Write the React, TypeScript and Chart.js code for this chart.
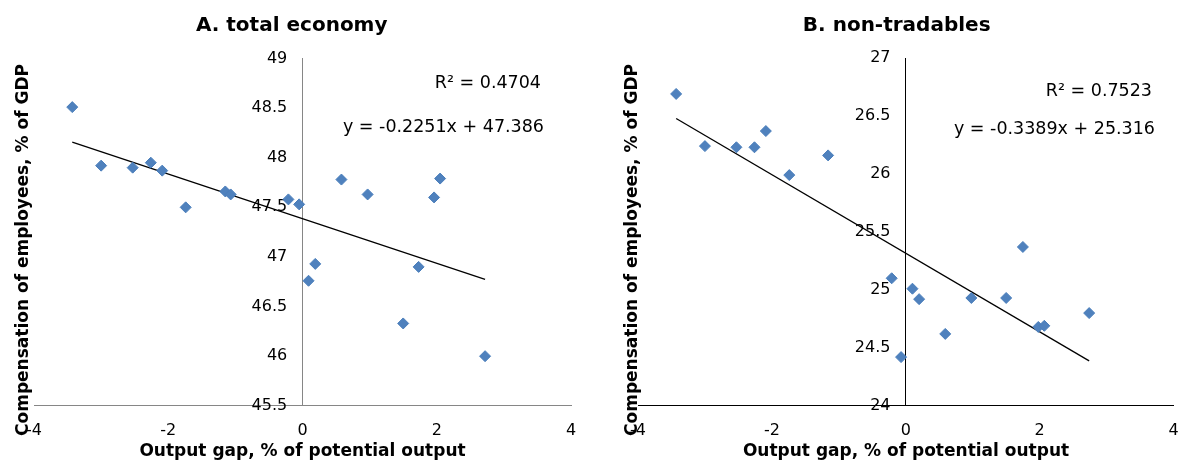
import React, { useEffect, useRef } from "react";
import { Chart, registerables } from "chart.js";

Chart.register(...registerables);

// ---- Data ----
const gapA = [-3.43, -3.0, -2.53, -2.26, -2.09, -1.74, -1.15, -1.07, -0.21, -0.05, 0.09, 0.19, 0.58, 0.97, 1.5, 1.73, 1.96, 2.05, 2.72];
const compA = [48.51, 47.92, 47.9, 47.95, 47.87, 47.5, 47.66, 47.63, 47.58, 47.53, 46.76, 46.93, 47.78, 47.63, 46.33, 46.9, 47.6, 47.79, 46.0];
const slopeA = -0.2251;
const interceptA = 47.386;
const r2A = "0.4704";

const gapB = [-3.43, -3.0, -2.53, -2.26, -2.09, -1.74, -1.16, -0.21, -0.07, 0.1, 0.2, 0.59, 0.98, 1.5, 1.75, 1.98, 2.07, 2.74];
const compB = [26.69, 26.24, 26.23, 26.23, 26.37, 25.99, 26.16, 25.1, 24.42, 25.01, 24.92, 24.62, 24.93, 24.93, 25.37, 24.68, 24.69, 24.8];
const slopeB = -0.3389;
const interceptB = 25.316;
const r2B = "0.7523";

const xTicks = [-4, -2, 0, 2, 4];
const yTicksA = [45.5, 46, 46.5, 47, 47.5, 48, 48.5, 49];
const yTicksB = [24, 24.5, 25, 25.5, 26, 26.5, 27];

const titleA = "A. total economy";
const titleB = "B. non-tradables";
const xTitle = "Output gap, % of potential output";
const yTitle = "Compensation of employees, % of GDP";

const FONT = '"DejaVu Sans", Verdana, sans-serif';
const MARKER = "#4F81BD";

const fmtEq = (s: number, b: number) =>
  `y = ${s.toFixed(4)}x ${b >= 0 ? "+" : "-"} ${Math.abs(b).toFixed(3)}`;

const textPlugin = {
  id: "panelText",
  afterDraw(chart: any, _args: any, o: any) {
    const { ctx } = chart;
    ctx.save();
    ctx.fillStyle = "#000";
    ctx.textBaseline = "middle";
    ctx.font = `bold 20px ${FONT}`;
    ctx.textAlign = "center";
    ctx.fillText(o.title, o.titleX, o.titleY);
    ctx.font = `bold 17px ${FONT}`;
    ctx.fillText(o.xTitle, o.xTitleX, o.xTitleY);
    ctx.save();
    ctx.translate(o.yTitleX, o.yTitleY);
    ctx.rotate(-Math.PI / 2);
    ctx.fillText(o.yTitle, 0, 0);
    ctx.restore();
    ctx.font = `17.5px ${FONT}`;
    ctx.textAlign = "right";
    ctx.fillText(o.r2, o.r2X, o.r2Y);
    ctx.fillText(o.eq, o.eqX, o.eqY);
    ctx.restore();
  },
};

type Panel = {
  xs: number[];
  ys: number[];
  slope: number;
  intercept: number;
  r2: string;
  yTicks: number[];
  title: string;
  axisColor: string;
  padding: { left: number; right: number; top: number; bottom: number };
  text: any;
};

function ScatterPanel({ p, left }: { p: Panel; left: number }) {
  const ref = useRef<HTMLCanvasElement>(null);
  useEffect(() => {
    const pts = p.xs.map((x, i) => ({ x, y: p.ys[i] }));
    const xmin = Math.min(...p.xs);
    const xmax = Math.max(...p.xs);
    const trend = [
      { x: xmin, y: p.slope * xmin + p.intercept },
      { x: xmax, y: p.slope * xmax + p.intercept },
    ];
    const chart = new Chart(ref.current!, {
      type: "scatter",
      data: {
        datasets: [
          {
            type: "line",
            data: trend,
            borderColor: "#000",
            borderWidth: 1.3,
            pointRadius: 0,
            fill: false,
            order: 2,
          } as any,
          {
            data: pts,
            pointStyle: "rectRot",
            pointRadius: 5.5,
            backgroundColor: MARKER,
            borderColor: "#4A7EBB",
            borderWidth: 1,
            order: 1,
          },
        ],
      },
      options: {
        animation: false,
        responsive: false,
        devicePixelRatio: 1,
        layout: { padding: p.padding },
        plugins: {
          legend: { display: false },
          tooltip: { enabled: false },
          title: { display: false },
          panelText: {
            ...p.text,
            title: p.title,
            xTitle,
            yTitle,
            r2: `R² = ${p.r2}`,
            eq: fmtEq(p.slope, p.intercept),
          },
        } as any,
        scales: {
          x: {
            type: "linear",
            min: xTicks[0],
            max: xTicks[xTicks.length - 1],
            afterBuildTicks: (s: any) => {
              s.ticks = xTicks.map((v) => ({ value: v }));
            },
            afterFit: (s: any) => {
              s.paddingLeft = 0;
              s.paddingRight = 0;
            },
            grid: { display: false, drawTicks: false },
            border: { display: true, color: p.axisColor, width: 1 },
            ticks: {
              color: "#000",
              font: { family: FONT, size: 16 },
              padding: 15,
              callback: (v: any) => String(v),
            },
          },
          y: {
            type: "linear",
            position: { x: 0 } as any,
            min: p.yTicks[0],
            max: p.yTicks[p.yTicks.length - 1],
            afterBuildTicks: (s: any) => {
              s.ticks = p.yTicks.map((v) => ({ value: v }));
            },
            grid: { display: false, drawTicks: false },
            border: { display: true, color: p.axisColor, width: 1 },
            ticks: {
              color: "#000",
              font: { family: FONT, size: 16 },
              callback: (v: any) => String(v) + "   ",
            },
          },
        },
      },
      plugins: [textPlugin as any],
    });
    return () => chart.destroy();
  }, [p]);
  return (
    <canvas
      ref={ref}
      width={590}
      height={462}
      style={{ position: "absolute", left, top: 0, width: 590, height: 462, display: "block" }}
    />
  );
}

const panelA: Panel = {
  xs: gapA,
  ys: compA,
  slope: slopeA,
  intercept: interceptA,
  r2: r2A,
  yTicks: yTicksA,
  title: titleA,
  axisColor: "#868686",
  padding: { left: 34, right: 19, top: 58.5, bottom: 7 },
  text: { titleX: 291.7, titleY: 26, xTitleX: 302.5, xTitleY: 452, yTitleX: 24, yTitleY: 250, r2X: 541, r2Y: 83, eqX: 544, eqY: 127.5 },
};

const panelB: Panel = {
  xs: gapB,
  ys: compB,
  slope: slopeB,
  intercept: interceptB,
  r2: r2B,
  yTicks: yTicksB,
  title: titleB,
  axisColor: "#000",
  padding: { left: 48, right: 6, top: 58, bottom: 7 },
  text: { titleX: 306.7, titleY: 26, xTitleX: 316, xTitleY: 452, yTitleX: 43, yTitleY: 250, r2X: 562, r2Y: 91.7, eqX: 565, eqY: 129 },
};

export default function App() {
  return (
    <div style={{ position: "absolute", left: 0, top: 0, width: 1180, height: 462, background: "#fff", overflow: "hidden" }}>
      <ScatterPanel p={panelA} left={0} />
      <ScatterPanel p={panelB} left={590} />
    </div>
  );
}
